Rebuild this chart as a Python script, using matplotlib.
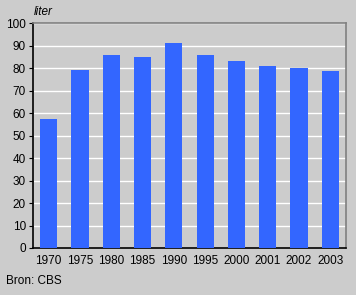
import numpy as np
import matplotlib.pyplot as plt

years = ["1970", "1975", "1980", "1985", "1990", "1995", "2000", "2001", "2002", "2003"]
liters = [57.5, 79.2, 86.0, 85.0, 91.3, 86.0, 83.2, 81.0, 80.1, 78.8]

bg = "#cccccc"
plt.rcParams['font.family'] = ['Liberation Sans', 'DejaVu Sans']

fig = plt.figure(figsize=(3.56, 2.95), dpi=100, facecolor=bg)
ax = fig.add_axes([33/356, 1 - 248/295, (346-33)/356, (248-23.3)/295])
ax.set_facecolor(bg)

x = np.arange(len(years))
ax.bar(x, liters, width=0.55, color="#3366ff", zorder=3)

ax.set_xlim(-0.5, len(years) - 0.5)
ax.set_ylim(0, 100)
ax.set_yticks(np.arange(0, 101, 10))
ax.yaxis.grid(True, color="white", linewidth=1.0, zorder=1)
ax.set_xticks(x)
ax.set_xticklabels(years)
ax.tick_params(axis="x", length=0, labelsize=8.5, pad=5)
ax.tick_params(axis="y", length=3, labelsize=8.5, pad=2)

for s in ["top", "right"]:
    ax.spines[s].set_color("#808080")
    ax.spines[s].set_linewidth(1.2)
for s in ["left", "bottom"]:
    ax.spines[s].set_color("black")
    ax.spines[s].set_linewidth(1.2)

fig.text(34/356, 1 - 12/295, "liter", fontsize=8.5, style="italic", va="center", ha="left")
fig.text(6/356, 1 - 281/295, "Bron: CBS", fontsize=8.5, va="center", ha="left")

fig.savefig("out.png", dpi=100, facecolor=bg)
